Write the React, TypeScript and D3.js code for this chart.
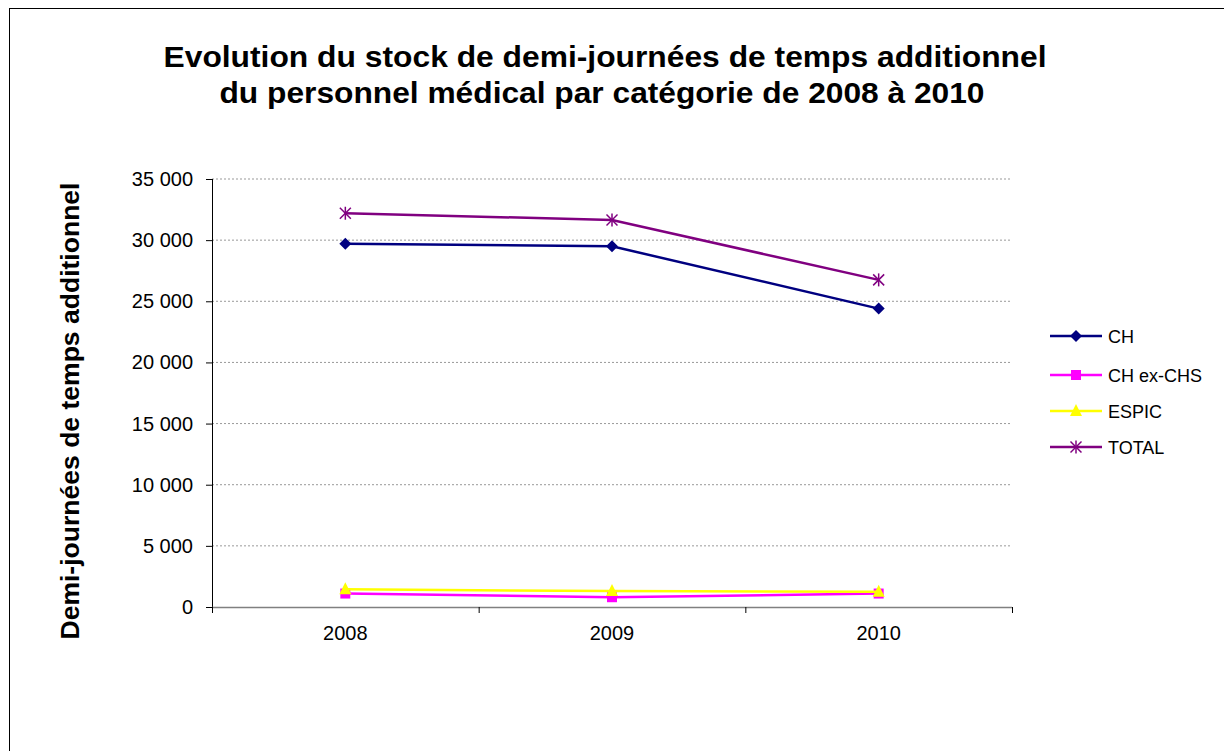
import React from "react";
import * as d3 from "d3";

const years = ["2008", "2009", "2010"];
const seriesNames = ["CH", "CH ex-CHS", "ESPIC", "TOTAL"];
const chValues = [29700, 29500, 24400];
const chExChsValues = [1100, 800, 1100];
const espicValues = [1450, 1300, 1250];
const totalValues = [32200, 31650, 26750];
const yTicks = [0, 5000, 10000, 15000, 20000, 25000, 30000, 35000];
const colors = ["#000080", "#FF00FF", "#FFFF00", "#800080"];
const titleLines = [
  "Evolution du stock de demi-journées de temps additionnel",
  "du personnel médical par catégorie de 2008 à 2010",
];
const yAxisTitle = "Demi-journées de temps additionnel";

const FONT = "'Liberation Sans', Arial, sans-serif";

function Marker({ kind, x, y, color }: { kind: number; x: number; y: number; color: string }) {
  if (kind === 0) {
    const s = 6;
    return <path d={`M${x},${y - s}L${x + s},${y}L${x},${y + s}L${x - s},${y}Z`} fill={color} />;
  }
  if (kind === 1) {
    return <rect x={x - 5} y={y - 5} width={10} height={10} fill={color} />;
  }
  if (kind === 2) {
    return <path d={`M${x},${y - 7}L${x + 6},${y + 5}L${x - 6},${y + 5}Z`} fill={color} />;
  }
  const s = 5.5;
  return (
    <g stroke={color} strokeWidth={1.5}>
      <line x1={x - s} y1={y - s} x2={x + s} y2={y + s} />
      <line x1={x - s} y1={y + s} x2={x + s} y2={y - s} />
      <line x1={x} y1={y - s - 1} x2={x} y2={y + s + 1} />
    </g>
  );
}

export default function App() {
  const left = 212, right = 1012, top = 179, bottom = 607;
  const x = d3.scaleBand().domain(years).range([left, right]);
  const y = d3.scaleLinear().domain([0, 35000]).range([bottom, top]);
  const fmt = (v: number) => d3.format(",")(v).replace(/,/g, " ");
  const data = [chValues, chExChsValues, espicValues, totalValues];
  const line = d3
    .line<number>()
    .x((_, i) => (x(years[i]) as number) + x.bandwidth() / 2)
    .y((d) => y(d));
  const drawOrder = [1, 2, 0, 3];
  const legendY = [336, 375, 411, 447];
  const titleX = [605, 602];
  const titleLen = [883, 765];

  return (
    <svg
      width={1224}
      height={751}
      style={{ position: "absolute", left: 0, top: 0, background: "#fff" }}
      fontFamily={FONT}
    >
      <rect x={9.5} y={8.5} width={1240} height={760} fill="#fff" stroke="#000" strokeWidth={1} />
      {titleLines.map((t, i) => (
        <text
          key={i}
          x={titleX[i]}
          y={67 + i * 36}
          textAnchor="middle"
          fontSize={29}
          fontWeight="bold"
          textLength={titleLen[i]}
          lengthAdjust="spacingAndGlyphs"
        >
          {t}
        </text>
      ))}
      <text
        transform={`translate(79,411) rotate(-90)`}
        textAnchor="middle"
        fontSize={25}
        fontWeight="bold"
        textLength={457}
        lengthAdjust="spacingAndGlyphs"
      >
        {yAxisTitle}
      </text>
      {yTicks.slice(1).map((t) => (
        <line key={t} x1={left} x2={right} y1={y(t)} y2={y(t)} stroke="#999" strokeDasharray="2,2" strokeWidth={1} />
      ))}
      <line x1={left + 0.5} x2={left + 0.5} y1={top} y2={bottom} stroke="#000" />
      <line x1={left} x2={right} y1={bottom + 0.5} y2={bottom + 0.5} stroke="#808080" strokeWidth={1.5} />
      {yTicks.map((t) => (
        <g key={t}>
          <line x1={left - 6} x2={left} y1={y(t) + 0.5} y2={y(t) + 0.5} stroke="#000" />
          <text x={left - 19} y={y(t) + 7} textAnchor="end" fontSize={20}>
            {fmt(t)}
          </text>
        </g>
      ))}
      {[...years.map((yr) => x(yr) as number), right].map((px, i) => (
        <line key={i} x1={px + 0.5} x2={px + 0.5} y1={bottom} y2={bottom + 6} stroke="#000" />
      ))}
      {years.map((yr) => (
        <text key={yr} x={(x(yr) as number) + x.bandwidth() / 2} y={bottom + 33} textAnchor="middle" fontSize={20}>
          {yr}
        </text>
      ))}
      {drawOrder.map((si) => (
        <g key={si}>
          <path d={line(data[si]) || ""} fill="none" stroke={colors[si]} strokeWidth={2.5} />
          {data[si].map((v, i) => (
            <Marker key={i} kind={si} x={(x(years[i]) as number) + x.bandwidth() / 2} y={y(v)} color={colors[si]} />
          ))}
        </g>
      ))}
      {seriesNames.map((n, i) => (
        <g key={n}>
          <line x1={1050} x2={1102} y1={legendY[i]} y2={legendY[i]} stroke={colors[i]} strokeWidth={2.5} />
          <Marker kind={i} x={1076} y={legendY[i]} color={colors[i]} />
          <text x={1108} y={legendY[i] + 6.5} fontSize={18}>
            {n}
          </text>
        </g>
      ))}
    </svg>
  );
}
